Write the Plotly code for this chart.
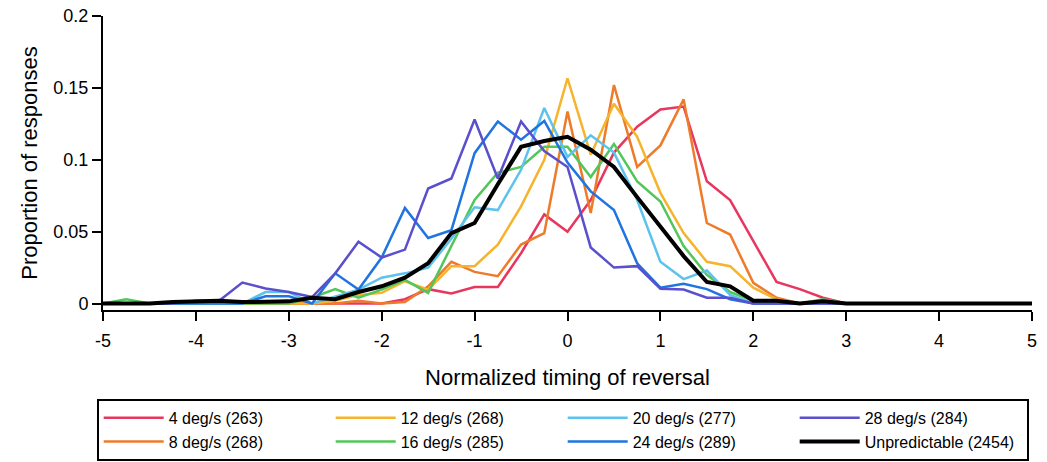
import plotly.graph_objects as go

timing = [-5 + 0.25 * i for i in range(41)]

z9 = [0] * 9

deg4 = [0]*13 + [0.003, 0.010, 0.007, 0.0115, 0.0115, 0.035, 0.062, 0.050, 0.072, 0.105, 0.123,
                 0.135, 0.137, 0.085, 0.072, 0.043, 0.015, 0.010, 0.004] + z9
deg8 = [0]*11 + [0.002, 0.0, 0.001, 0.012, 0.029, 0.022, 0.019, 0.041, 0.049, 0.1335, 0.063,
                 0.152, 0.095, 0.110, 0.142, 0.056, 0.048, 0.0144, 0.004, 0] + [0]*10
deg12 = [0]*10 + [0.002, 0.006, 0.0074, 0.0155, 0.0097, 0.026, 0.026, 0.041, 0.0676, 0.100,
                  0.1567, 0.1035, 0.139, 0.116, 0.077, 0.049, 0.029, 0.026, 0.011, 0.003] + [0]*11
deg16 = [0, 0.003, 0, 0, 0, 0, 0, 0, 0, 0.004, 0.010, 0.004, 0.0097, 0.0165, 0.0074, 0.040,
         0.072, 0.091, 0.095, 0.109, 0.109, 0.088, 0.111, 0.085, 0.071, 0.040, 0.020, 0.008,
         0.002, 0.002, 0, 0.003] + z9
deg20 = [0]*7 + [0.008, 0.008, 0, 0.005, 0.0097, 0.018, 0.021, 0.025, 0.045, 0.067, 0.065,
                 0.093, 0.136, 0.102, 0.117, 0.105, 0.072, 0.029, 0.017, 0.023, 0.006] + [0]*13
deg24 = [0]*7 + [0.005, 0.005, 0, 0.021, 0.0097, 0.032, 0.0665, 0.0456, 0.051, 0.1046, 0.1266,
                 0.114, 0.127, 0.098, 0.078, 0.065, 0.028, 0.011, 0.0137, 0.010, 0.003] + [0]*13
deg28 = [0, 0, 0, 0, 0.002, 0.002, 0.0146, 0.0105, 0.008, 0.0045, 0.021, 0.043, 0.032, 0.0375,
         0.080, 0.087, 0.128, 0.087, 0.1266, 0.106, 0.095, 0.039, 0.025, 0.026, 0.0102, 0.0097,
         0.004, 0.004] + [0]*13
unpred = [0, 0, 0, 0.001, 0.0015, 0.002, 0.001, 0.001, 0.0015, 0.004, 0.003, 0.008, 0.012, 0.018,
          0.028, 0.049, 0.056, 0.083, 0.109, 0.113, 0.116, 0.107, 0.095, 0.074, 0.054, 0.033,
          0.015, 0.012, 0.002, 0.002, 0, 0.0015] + z9

names = ["4 deg/s (263)", "8 deg/s (268)", "12 deg/s (268)", "16 deg/s (285)",
         "20 deg/s (277)", "24 deg/s (289)", "28 deg/s (284)", "Unpredictable (2454)"]
series = [deg4, deg8, deg12, deg16, deg20, deg24, deg28, unpred]
colors = ["#e8375e", "#ee7b2a", "#f6b32b", "#52c65a", "#5cc3ee", "#1f74e0", "#5a4fcc", "#000000"]
widths = [2.5, 2.5, 2.5, 2.5, 2.5, 2.5, 2.5, 4]
ranks = [1, 5, 2, 6, 3, 7, 4, 8]

xticks = [-5, -4, -3, -2, -1, 0, 1, 2, 3, 4, 5]
xticktext = ["-5", "-4", "-3", "-2", "-1", "0", "1", "2", "3", "4", "5"]
yticks = [0, 0.05, 0.1, 0.15, 0.2]
yticktext = ["0", "0.05", "0.1", "0.15", "0.2"]

fig = go.Figure()
for n, s, c, w, r in zip(names, series, colors, widths, ranks):
    fig.add_trace(go.Scatter(x=timing, y=s, mode="lines", name=n,
                             line=dict(color=c, width=w), legendrank=r))

font = "Liberation Sans, Arial, sans-serif"
fig.update_layout(
    width=1047, height=462,
    margin=dict(l=103, r=15, t=16, b=151.5, autoexpand=False),
    paper_bgcolor="white", plot_bgcolor="white",
    font=dict(family=font, size=18, color="black"),
    xaxis=dict(range=[-5, 5], tickvals=xticks, ticktext=xticktext,
               showline=True, linecolor="black", linewidth=2, ticks="outside",
               ticklen=9, tickwidth=2, tickcolor="black", showgrid=False, zeroline=False,
               ticklabelstandoff=4,
               title=dict(text="Normalized timing of reversal", standoff=20),
               tickfont=dict(size=18)),
    yaxis=dict(range=[-0.0045, 0.2], tickvals=yticks, ticktext=yticktext,
               showline=True, linecolor="black", linewidth=2, ticks="outside",
               ticklen=9, tickwidth=2, tickcolor="black", showgrid=False, zeroline=False,
               title=dict(text="Proportion of responses", standoff=10),
               tickfont=dict(size=18)),
    legend=dict(orientation="h", x=-0.0068, xanchor="left", y=-0.302, yanchor="top",
                itemwidth=60, entrywidth=157, entrywidthmode="pixels",
                bordercolor="black", borderwidth=2, font=dict(size=16),
                tracegroupgap=0),
    showlegend=True,
)

fig.write_html("out.html")
